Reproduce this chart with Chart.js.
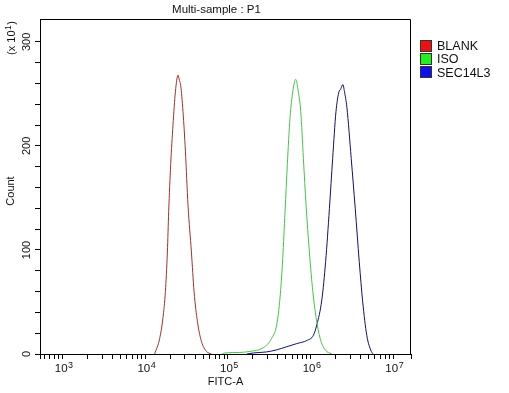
<!DOCTYPE html>
<html><head><meta charset="utf-8">
<script src="https://cdn.jsdelivr.net/npm/chart.js@4/dist/chart.umd.min.js"></script>
<style>html,body{margin:0;padding:0;background:#fff;}#wrap{width:509px;height:393px;}</style>
</head><body><div id="wrap"><canvas id="c" width="509" height="393"></canvas></div>
<script>
// ---- data (FITC-A intensity vs count, count in units of x10^1) ----
const seriesNames = ['BLANK', 'ISO', 'SEC14L3'];
const blankX = [12980, 14930, 16370, 17500, 18500, 19190, 20280, 21630, 23130, 24880, 25870, 26820, 28590, 30570, 32870, 36140, 38900, 42770, 47820, 54980, 63200];
const blankY = [0, 15, 35, 60, 98, 137, 182, 220, 252, 268, 263, 258, 233, 195, 143, 98, 60, 31, 12, 2.5, 0];
const isoX = [85000, 91600, 139300, 184500, 267500, 338000, 388800, 426600, 460000, 490900, 522800, 563600, 608100, 661000, 711100, 760400, 818200, 881600, 966700, 1064000, 1166000, 1304000, 1500000, 1808000];
const isoY = [0, 1, 1.5, 2.5, 6, 15, 28, 54, 92, 137, 182, 227, 252, 264, 252, 233, 188, 143, 98, 60, 35, 15, 4, 0];
const secX = [169400, 202200, 294000, 388800, 514300, 680300, 899800, 1082000, 1189000, 1367000, 1521000, 1690000, 1849000, 2028000, 2188000, 2324000, 2458000, 2572000, 2749000, 3101000, 3467000, 3876000, 4272000, 4783000, 5425000, 5734000];
const secY = [0, 1, 2, 4, 7, 10, 13, 18, 28, 52, 89, 140, 188, 233, 251, 255, 259, 252, 237, 188, 140, 89, 50, 18, 2.5, 0];
const xTickValues = [1e3, 1e4, 1e5, 1e6, 1e7];
const xTickLabels = ['10^3', '10^4', '10^5', '10^6', '10^7'];
const yTickValues = [0, 100, 200, 300];
const yTickLabels = ['0', '100', '200', '300'];
const chartTitle = 'Multi-sample : P1';
const xTitle = 'FITC-A';
const yTitle = 'Count';
const yUnit = '(x 10^1)';

const FONT = "'Liberation Sans', Arial, sans-serif";
Chart.defaults.font.family = FONT;
Chart.defaults.color = '#111';

const lineColors = ['#a52e2e', '#44c444', '#10106e'];
const legendFills = ['#ee1111', '#22ee22', '#1010ee'];
const toPts = (xs, ys) => xs.map((x, i) => ({x: x, y: ys[i]}));

// draws "base^exp" with a real superscript; (x,y) = baseline
function drawPow(ctx, txt, x, y, size, supSize, rise) {
  const [b, e] = txt.split('^');
  ctx.font = size + 'px ' + FONT;
  const wb = ctx.measureText(b).width;
  ctx.font = supSize + 'px ' + FONT;
  const we = ctx.measureText(e).width;
  const x0 = x - (wb + we) / 2;
  ctx.textAlign = 'left'; ctx.textBaseline = 'alphabetic';
  ctx.font = size + 'px ' + FONT;
  ctx.fillText(b, x0, y);
  ctx.font = supSize + 'px ' + FONT;
  ctx.fillText(e, x0 + wb + 0.5, y - rise);
}

const deco = {
  id: 'deco',
  afterDraw(chart) {
    const ctx = chart.ctx, a = chart.chartArea;
    ctx.save();
    ctx.strokeStyle = '#000'; ctx.lineWidth = 1;
    ctx.beginPath();
    ctx.moveTo(a.left, a.top + 0.5); ctx.lineTo(a.right - 0.5, a.top + 0.5); ctx.lineTo(a.right - 0.5, a.bottom);
    ctx.stroke();
    ctx.fillStyle = '#111';
    // x tick labels at the scale's own tick positions
    const xs = chart.scales.x;
    xTickValues.forEach((v, i) => {
      const px = xs.getPixelForValue(v);
      drawPow(ctx, xTickLabels[i], px + 1, 372, 11.5, 9, 4.5);
    });
    ctx.font = '11.5px ' + FONT;
    ctx.textAlign = 'center'; ctx.textBaseline = 'middle';
    ctx.fillText(chartTitle, 216.5, 10);
    ctx.font = '11px ' + FONT;
    ctx.save(); ctx.translate(11, 191); ctx.rotate(-Math.PI / 2); ctx.textAlign = 'center'; ctx.textBaseline = 'middle'; ctx.fillText(yTitle, 0, 0); ctx.restore();
    // "(x 10^1)" rotated
    ctx.save(); ctx.translate(15, 38); ctx.rotate(-Math.PI / 2);
    const parts = yUnit.split('^');
    const pre = parts[0], sup = parts[1].replace(')', ''), post = ')';
    ctx.font = '11px ' + FONT;
    const wPre = ctx.measureText(pre).width, wPost = ctx.measureText(post).width;
    ctx.font = '8.5px ' + FONT;
    const wSup = ctx.measureText(sup).width;
    let x0 = -(wPre + wSup + wPost + 1) / 2;
    ctx.textAlign = 'left'; ctx.textBaseline = 'alphabetic';
    ctx.font = '11px ' + FONT; ctx.fillText(pre, x0, 0);
    x0 += wPre + 0.5;
    ctx.font = '8.5px ' + FONT; ctx.fillText(sup, x0, -4);
    x0 += wSup + 0.5;
    ctx.font = '11px ' + FONT; ctx.fillText(post, x0, 0);
    ctx.restore();
    // legend
    ctx.font = '12.5px ' + FONT;
    ctx.textAlign = 'left'; ctx.textBaseline = 'middle';
    seriesNames.forEach((n, i) => {
      const top = 40 + 13 * i;
      ctx.fillStyle = legendFills[i];
      ctx.fillRect(420, top, 12, 12);
      ctx.strokeStyle = '#333';
      ctx.strokeRect(420.5, top + 0.5, 11, 11);
      ctx.fillStyle = '#111';
      ctx.fillText(n, 437, top + 6.5 + 0.5 * i);
    });
    ctx.restore();
  }
};

new Chart(document.getElementById('c'), {
  type: 'line',
  data: {
    datasets: [
      {label: seriesNames[0], data: toPts(blankX, blankY)},
      {label: seriesNames[1], data: toPts(isoX, isoY)},
      {label: seriesNames[2], data: toPts(secX, secY)}
    ].map((d, i) => Object.assign(d, {
      borderColor: lineColors[i], backgroundColor: lineColors[i], borderWidth: 1,
      pointRadius: 0, tension: 0.25, cubicInterpolationMode: 'monotone', fill: false
    }))
  },
  options: {
    responsive: false, animation: false,
    layout: {padding: {left: 0, top: 19, right: 98, bottom: 0}},
    plugins: {legend: {display: false}, tooltip: {enabled: false}, title: {display: false}},
    scales: {
      x: {
        type: 'logarithmic', position: 'bottom', min: 532, max: 16400000,
        afterFit: s => { s.height = 39; },
        afterBuildTicks: s => {
          s.ticks = s.ticks.filter(t => {
            if (t.value === s.min || t.value === s.max) return true;
            const m = t.value / Math.pow(10, Math.floor(Math.log10(t.value) + 1e-9));
            return Math.abs(m - Math.round(m)) < 1e-6;
          });
        },
        grid: {display: true, drawOnChartArea: false, drawTicks: true, tickLength: 5, color: '#000'},
        border: {display: true, color: '#000', width: 1},
        ticks: {
          autoSkip: false, maxRotation: 0, minRotation: 0, padding: 1,
          font: {size: 11}, color: '#111',
          callback: () => ''
        },
        title: {display: true, text: xTitle, font: {size: 11}, color: '#111', padding: {top: 0, bottom: 4}}
      },
      y: {
        type: 'linear', position: 'left', min: 0, max: 322,
        afterFit: s => { s.width = 40; },
        afterBuildTicks: s => { s.ticks = s.ticks.filter(t => t.value % 20 === 0); },
        grid: {display: true, drawOnChartArea: false, drawTicks: true, tickLength: 5, color: '#000'},
        border: {display: true, color: '#000', width: 1},
        ticks: {
          stepSize: 20, autoSkip: false, minRotation: 90, maxRotation: 90, crossAlign: 'center', padding: -1,
          font: {size: 11}, color: '#111',
          callback: v => { const i = yTickValues.indexOf(v); return i >= 0 ? yTickLabels[i] : ''; }
        },
        title: {display: false}
      }
    }
  },
  plugins: [deco]
});
</script></body></html>
